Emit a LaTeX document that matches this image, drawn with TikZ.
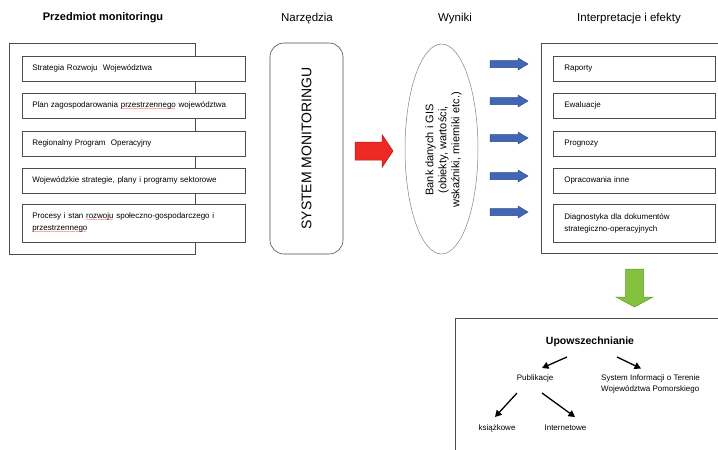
\documentclass[tikz,border=0pt]{standalone}
\usepackage{fontspec}
\setmainfont{Liberation Sans}
\usetikzlibrary{shapes.geometric,calc,arrows.meta}
\newcommand\spellmark[1]{\leavevmode\setbox0\hbox{#1}\rlap{\raisebox{-3.4pt}{\hbox to \wd0{\color{red}\fontsize{4.5}{4.5}\selectfont\leaders\hbox{\kern-0.35pt\char"7E\kern-0.35pt}\hfill}}}#1}
\definecolor{redfill}{HTML}{EE2A24}
\definecolor{reddraw}{HTML}{B01A17}
\definecolor{bluefill}{HTML}{4166B5}
\definecolor{bluedraw}{HTML}{2E4A8A}
\definecolor{greenfill}{HTML}{83C13F}
\definecolor{greendraw}{HTML}{5E9A2A}
\tikzset{
  pics/rblock/.style n args={4}{code={
    \path[pic actions] (0,-#3) -- (#1-#2,-#3) -- (#1-#2,-#4) -- (#1,0) -- (#1-#2,#4) -- (#1-#2,#3) -- (0,#3) -- cycle;}},
  pics/dblock/.style n args={4}{code={
    \path[pic actions] (-#3,0) -- (-#3,#1-#2) -- (-#4,#1-#2) -- (0,#1) -- (#4,#1-#2) -- (#3,#1-#2) -- (#3,0) -- cycle;}},
}
\begin{document}
\begin{tikzpicture}[x=1pt,y=-1pt,
  frame/.style={draw=black!70, line width=0.6pt},
  leftitem/.style={draw=black!70, line width=0.6pt, fill=white, anchor=north west,
    inner xsep=10pt, inner ysep=0pt, text width=203pt, minimum height=25pt, align=left,
    font=\fontsize{8}{12}\selectfont},
  rightitem/.style={leftitem, inner xsep=11pt, text width=140pt},
  title/.style={font=\fontsize{11.5}{13}\selectfont, inner sep=0pt},
  small/.style={font=\fontsize{8}{11}\selectfont, inner sep=0pt},
  blackarrow/.style={draw=black, line width=1.3pt, -{Triangle[length=6.5pt,width=7pt]}},
]
\useasboundingbox (0,0) rectangle (718,450);

% titles
\node[title, font=\bfseries\fontsize{11}{13}\selectfont] (t1) at (103,18) {Przedmiot monitoringu};
\node[title] (t2) at (307,19) {Narzędzia};
\node[title] (t3) at (455,19) {Wyniki};
\node[title] (t4) at (629,19) {Interpretacje i efekty};

% left column
\draw[frame] (9,43) rectangle (195,254);
\node[leftitem] (l1) at (22,56) {Strategia Rozwoju\ \ Województwa};
\node[leftitem] (l2) at (22,93) {Plan zagospodarowania \spellmark{przestrzennego} województwa};
\node[leftitem] (l3) at (22,131) {Regionalny Program\ \ Operacyjny};
\node[leftitem] (l4) at (22,168) {Wojewódzkie strategie, plany i programy sektorowe};
\node[leftitem, minimum height=38pt] (l5) at (22,204) {Procesy i stan \spellmark{rozwoju} społeczno-gospodarczego i\\\spellmark{przestrzennego}\\[7pt]};

% system box
\node[frame, rounded corners=14pt, rotate=90, minimum width=211pt, minimum height=73pt,
  inner sep=0pt, font=\fontsize{14}{16}\selectfont] (sys) at (306.5,148.5) {SYSTEM MONITORINGU};

% red arrow
\pic[fill=redfill, draw=reddraw, line width=0.5pt] (redarrow) at (355,151) {rblock={38}{11}{9}{16.5}};

% ellipse
\node[draw=black!50, line width=0.5pt, ellipse, minimum width=73pt, minimum height=210pt, inner sep=0pt] (bank) at (441.5,149) {};
\node[rotate=90, align=center, inner sep=0pt, font=\fontsize{11}{13}\selectfont] (banktext) at (443.5,150)
  {Bank danych i GIS\\(obiekty, wartości,\\wskaźniki, mierniki etc.)};

% blue arrows
\foreach \yy [count=\i] in {64,101,138,176,212}
  \pic[fill=bluefill, draw=bluedraw, line width=0.5pt] (blue\i) at (490,\yy) {rblock={38}{10}{3.5}{6}};

% right column
\draw[frame] (718,43) -| (541,253) -- (718,253);
\node[rightitem] (r1) at (553,56) {Raporty};
\node[rightitem] (r2) at (553,93) {Ewaluacje};
\node[rightitem] (r3) at (553,131) {Prognozy};
\node[rightitem] (r4) at (553,168) {Opracowania inne};
\node[rightitem, minimum height=38pt] (r5) at (553,204) {Diagnostyka dla dokumentów\\strategiczno-operacyjnych\\[7pt]};

% green arrow
\pic[fill=greenfill, draw=greendraw, line width=0.5pt] (greenarrow) at (634.5,269) {dblock={38}{10}{9}{18.5}};

% bottom box
\draw[frame] (718,318) -| (455,450);
\node[font=\bfseries\fontsize{10.5}{12}\selectfont, inner sep=0pt] (upow) at (590,342) {Upowszechnianie};
\node[small] (pub) at (535,378) {Publikacje};
\node[small, anchor=west, align=left] (sit) at (601,383.5) {System Informacji o Terenie\\Województwa Pomorskiego};
\node[small] (ksi) at (497,428) {książkowe};
\node[small] (int) at (565.5,428) {Internetowe};

\draw[blackarrow] ($(upow)+(-23,15)$) -- ($(pub)+(7,-10)$);
\draw[blackarrow] ($(upow)+(27,15)$) -- ($(sit.west)+(40,-15)$);
\draw[blackarrow] ($(pub)+(-18,15)$) -- ($(ksi)+(-2,-11)$);
\draw[blackarrow] ($(pub)+(7,15)$) -- ($(int)+(9.5,-11)$);
\end{tikzpicture}
\end{document}
